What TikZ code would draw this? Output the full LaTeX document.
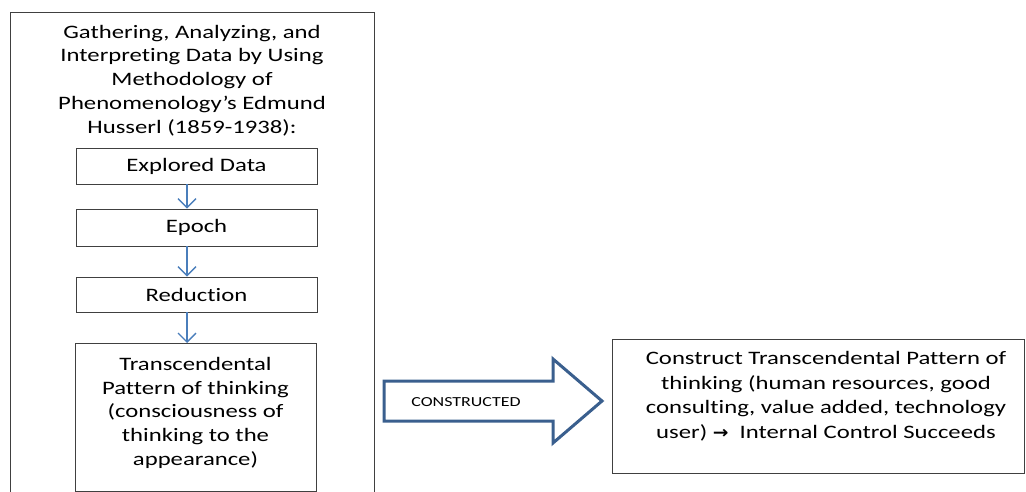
\documentclass[tikz,border=0pt]{standalone}
\usepackage{fontspec}
\setmainfont{Carlito}[FakeStretch=1.3, Ligatures=NoCommon]
\newfontfamily\arrowfont{DejaVu Sans}[FakeStretch=1.1]
\usetikzlibrary{arrows.meta}
\definecolor{flowblue}{HTML}{4A7EBB}
\definecolor{bigblue}{HTML}{3A5F8E}
\definecolor{boxgray}{HTML}{404040}
\tikzset{
  stepbox/.style={draw=boxgray, line width=0.9pt, minimum width=241pt, align=center, font=\fontsize{19}{23}\selectfont, inner sep=0pt},
  flow/.style={draw=flowblue, line width=1.3pt, -{Straight Barb[length=9pt,width=18pt,line width=1.3pt]}},
  maintext/.style={align=center, font=\fontsize{19}{23.8}\selectfont, inner sep=0pt}
}
\begin{document}
\begin{tikzpicture}[x=1pt,y=-1pt]
\useasboundingbox (0,0) rectangle (1026,492);
% outer box (open at bottom)
\draw[boxgray, line width=0.9pt] (10,492) -- (10,12) -- (374,12) -- (374,492);
\node[maintext] (title) at (192,80.5) {Gathering, Analyzing, and\\Interpreting Data by Using\\Methodology of\\Phenomenology’s Edmund\\Husserl (1859-1938):};
\node[stepbox, minimum height=36pt] (explored) at (196.5,166) {Explored Data};
\node[stepbox, minimum height=37pt] (epoch) at (196.5,227.5) {\raisebox{-1.5pt}{Epoch}};
\node[stepbox, minimum height=35pt] (reduction) at (196.5,294.5) {Reduction};
\node[stepbox, minimum height=148pt, anchor=north, text width=170pt] (trans) at (195.5,343) {};
\node[maintext, anchor=north] (transtext) at (195.5,357) {Transcendental\\Pattern of thinking\\(consciousness of\\thinking to the\\appearance)};
\draw[flow] (explored.south -| 187,0) -- (epoch.north -| 187,0);
\draw[flow] (epoch.south -| 187,0) -- (reduction.north -| 187,0);
\draw[flow] (reduction.south -| 187,0) -- (trans.north -| 187,0);
% big arrow
\draw[bigblue, line width=3pt, line join=miter]
  (384,381) -- (553,381) -- (553,359) -- (602,401) -- (553,443) -- (553,421) -- (384,421) -- cycle;
\node[font=\fontsize{13.8}{15}\selectfont, inner sep=0pt] (constructed) at (466,402) {CONSTRUCTED};
% right box
\node[draw=boxgray, line width=0.9pt, minimum width=412pt, minimum height=134pt, anchor=north west, inner sep=0pt] (result) at (612,339) {};
\node[maintext, anchor=north, font=\fontsize{19}{24.8}\selectfont] (resulttext) at (826,351) {Construct Transcendental Pattern of\\thinking (human resources, good\\consulting, value added, technology\\user) {\arrowfont\bfseries\fontsize{17}{16}\selectfont →}\ \ Internal Control Succeeds};
\end{tikzpicture}
\end{document}
